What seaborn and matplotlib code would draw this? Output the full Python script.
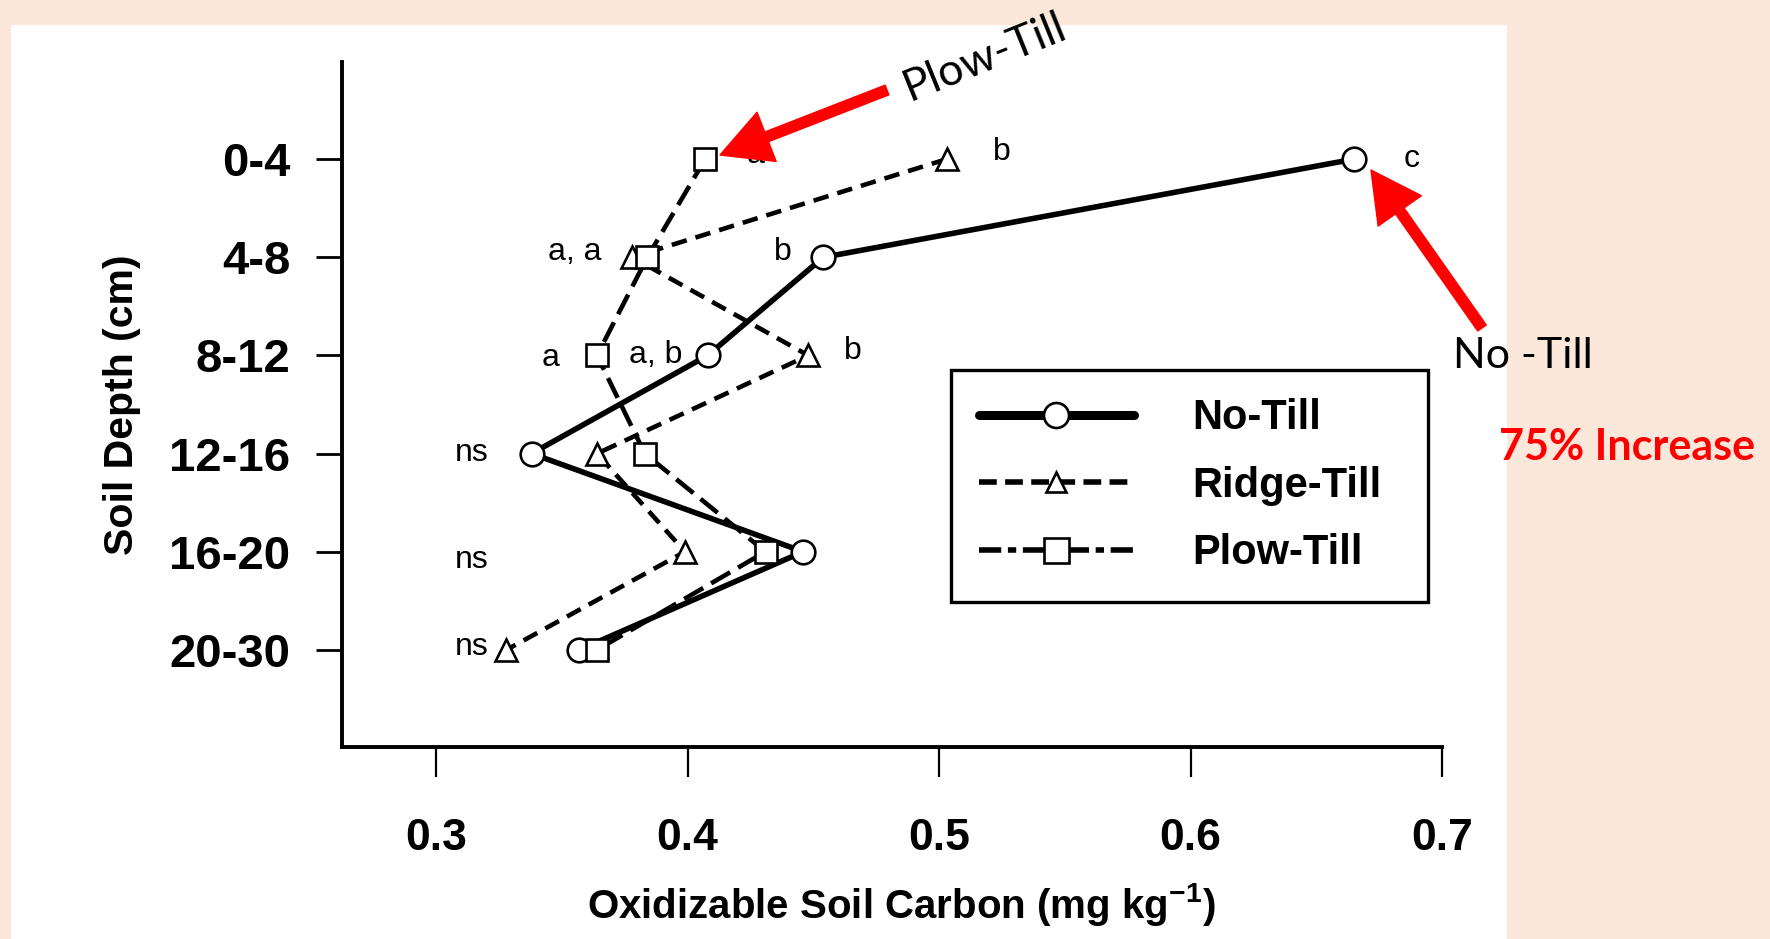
import numpy as np
import pandas as pd
import matplotlib
matplotlib.use("Agg")
import matplotlib.pyplot as plt
import seaborn as sns
from matplotlib.lines import Line2D
from matplotlib.patches import Rectangle, FancyArrowPatch, ArrowStyle

# ---------------- data ----------------
depths = ["0-4", "4-8", "8-12", "12-16", "16-20", "20-30"]
series_names = ["No-Till", "Ridge-Till", "Plow-Till"]
no_till = [0.665, 0.454, 0.408, 0.338, 0.446, 0.357]
ridge_till = [0.503, 0.378, 0.448, 0.364, 0.399, 0.328]
plow_till = [0.407, 0.384, 0.364, 0.383, 0.431, 0.364]
x_ticks = [0.3, 0.4, 0.5, 0.6, 0.7]

# significance letters (text, x in data units, depth row offset)
sig_text = ["a", "b", "c", "a, a", "b", "a", "a, b", "b", "ns", "ns", "ns"]
sig_x = [0.427, 0.525, 0.688, 0.355, 0.438, 0.3456, 0.3873, 0.4657, 0.3143, 0.3143, 0.3143]
sig_y = [-0.04, -0.07, 0.0, 0.95, 0.95, 2.03, 2.0, 1.95, 2.99, 4.08, 4.97]

# ---------------- style ----------------
sns.set_style("ticks")
plt.rcParams["font.family"] = ["Liberation Sans", "DejaVu Sans"]
plt.rcParams["mathtext.fontset"] = "custom"
plt.rcParams["mathtext.rm"] = "Liberation Sans"
plt.rcParams["mathtext.bf"] = "Liberation Sans:bold"
for k in ["text.color", "axes.labelcolor", "xtick.color", "ytick.color", "axes.edgecolor"]:
    plt.rcParams[k] = "black"

W, H = 1770, 939
peach = "#FCE8DA"
fig = plt.figure(figsize=(W / 100, H / 100), dpi=100, facecolor=peach)
fig.add_artist(Rectangle((11 / W, 0), (1507 - 11) / W, 1 - 25 / H,
                         transform=fig.transFigure, facecolor="white",
                         edgecolor="none", zorder=-10))

ax = fig.add_axes([342 / W, 1 - 747 / H, 1100 / W, 685 / H])
ax.set_facecolor("white")

pos = list(range(len(depths)))
df = pd.DataFrame({
    "depth": pos * 3,
    "carbon": no_till + ridge_till + plow_till,
    "tillage": sum([[n] * len(depths) for n in series_names], []),
})

styles = {
    "No-Till": dict(lw=4.0, linestyle="-", marker="o", ms=17),
    "Ridge-Till": dict(lw=3.3, linestyle=(0, (3.4, 2.0)), marker="^", ms=16),
    "Plow-Till": dict(lw=3.3, linestyle=(0, (4.8, 2.0)), marker="s", ms=16),
}
for name in series_names:
    sub = df[df["tillage"] == name]
    st = styles[name]
    sns.lineplot(data=sub, x="carbon", y="depth", orient="y", sort=True,
                 estimator=None, ax=ax, color="black", legend=False,
                 lw=st["lw"], linestyle=st["linestyle"], marker=st["marker"],
                 ms=st["ms"], mfc="white", mec="black", mew=1.9)

ax.set_xlim(0.2626, 0.7)
ax.set_ylim(5.99, -0.99)
ax.set_xticks(x_ticks)
ax.set_xticklabels([f"{v:.1f}" for v in x_ticks], fontweight="bold")
ax.set_yticks(pos)
ax.set_yticklabels(depths, fontweight="bold")
ax.tick_params(axis="y", length=18.5, width=2, pad=18.5, labelsize=34)
ax.tick_params(axis="x", length=21.5, width=1.6, pad=29.5, labelsize=32)
for s in ["top", "right"]:
    ax.spines[s].set_visible(False)
for s in ["left", "bottom"]:
    ax.spines[s].set_linewidth(2.8)

ax.set_xlabel(r"Oxidizable Soil Carbon (mg kg$^{\mathbf{-1}}$)", fontsize=29, fontweight="bold")
ax.xaxis.set_label_coords(0.508, -0.195)
ax.set_ylabel("Soil Depth (cm)", fontsize=29.5, fontweight="bold")
ax.yaxis.set_label_coords(-0.183, 0.5)

for t, x, y in zip(sig_text, sig_x, sig_y):
    ax.text(x, y, t, ha="center", va="center", fontsize=23, color="black")

# legend
handles = [
    Line2D([], [], color="black", lw=6.5, linestyle="-", marker="o", ms=18,
           mfc="white", mec="black", mew=1.9),
    Line2D([], [], color="black", lw=4.0, linestyle=(0, (3.2, 1.5)), marker="^", ms=15,
           mfc="white", mec="black", mew=1.9),
    Line2D([], [], color="black", lw=4.0, linestyle=(0, (4.0, 1.2, 1.5, 1.2)), marker="s", ms=18,
           mfc="white", mec="black", mew=1.9),
]
leg = ax.legend(handles, series_names, loc="upper left",
                bbox_to_anchor=(951 / W, 1 - 595 / H, 477 / W, 225 / H),
                bbox_transform=fig.transFigure, mode="expand",
                borderaxespad=0, frameon=True, fancybox=False, framealpha=1,
                edgecolor="black", facecolor="white", numpoints=1,
                prop=dict(size=30, weight="bold"), borderpad=0.68,
                handlelength=3.7, handletextpad=1.4, labelspacing=0.66)
leg.get_frame().set_linewidth(2.4)

# annotations
red = "#FF0000"
def arrow(x0, y0, x1, y1):
    a = FancyArrowPatch((x0 / W, 1 - y0 / H), (x1 / W, 1 - y1 / H),
                        transform=fig.transFigure,
                        arrowstyle=ArrowStyle("simple", head_length=36, head_width=38, tail_width=7.5),
                        mutation_scale=1, color=red, shrinkA=0, shrinkB=0, zorder=20)
    fig.add_artist(a)

arrow(887, 90, 720, 155)
arrow(1482, 328, 1371, 170)

fig.text(985 / W, 1 - 57 / H, "Plow-Till", rotation=22, rotation_mode="anchor",
         ha="center", va="center", fontsize=32, family=["Lato", "DejaVu Sans"])
fig.text(1453 / W, 1 - 368 / H, "No -Till", ha="left", va="baseline",
         fontsize=31, family=["Lato", "DejaVu Sans"])
fig.text(1499 / W, 1 - 460 / H, "75% Increase", ha="left", va="baseline", color=red,
         fontsize=31, fontweight="bold", family=["Lato", "DejaVu Sans"])

fig.savefig("out.png", dpi=100, facecolor=fig.get_facecolor())
